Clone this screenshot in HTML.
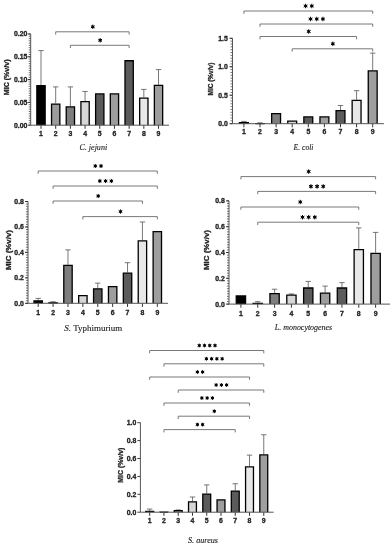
<!DOCTYPE html>
<html><head><meta charset="utf-8"><style>
html,body{margin:0;padding:0;background:#fff;}
body{width:392px;height:550px;overflow:hidden;}
svg{display:block;filter:blur(0.3px);}
.t{font-family:"Liberation Sans",sans-serif;font-weight:bold;font-size:6.9px;fill:#222;stroke:#222;stroke-width:0.3px;}
.yt{font-family:"Liberation Sans",sans-serif;font-weight:bold;font-size:7px;fill:#222;stroke:#222;stroke-width:0.3px;}
.s{font-family:"Liberation Sans",sans-serif;font-weight:bold;font-size:11px;fill:#111;}
.sp{font-family:"Liberation Serif",serif;font-size:8.2px;fill:#222;stroke:#222;stroke-width:0.12px;}
</style></head><body>
<svg width="392" height="550" viewBox="0 0 392 550">
<rect width="392" height="550" fill="#fff"/>
<path d="M30.70 125.20h-2M30.70 122.92h-2M30.70 120.64h-2M30.70 118.36h-2M30.70 116.08h-2M30.70 113.80h-2M30.70 111.52h-2M30.70 109.24h-2M30.70 106.96h-2M30.70 104.68h-2M30.70 102.40h-2M30.70 100.12h-2M30.70 97.84h-2M30.70 95.56h-2M30.70 93.28h-2M30.70 91.00h-2M30.70 88.72h-2M30.70 86.44h-2M30.70 84.16h-2M30.70 81.88h-2M30.70 79.60h-2M30.70 77.32h-2M30.70 75.04h-2M30.70 72.76h-2M30.70 70.48h-2M30.70 68.20h-2M30.70 65.92h-2M30.70 63.64h-2M30.70 61.36h-2M30.70 59.08h-2M30.70 56.80h-2M30.70 54.52h-2M30.70 52.24h-2M30.70 49.96h-2M30.70 47.68h-2M30.70 45.40h-2M30.70 43.12h-2M30.70 40.84h-2M30.70 38.56h-2M30.70 36.28h-2M30.70 34.00h-2" stroke="#444" stroke-width="0.75" fill="none"/>
<text x="27.40" y="127.60" class="t" text-anchor="end">0.00</text>
<text x="27.40" y="104.80" class="t" text-anchor="end">0.05</text>
<text x="27.40" y="82.00" class="t" text-anchor="end">0.10</text>
<text x="27.40" y="59.20" class="t" text-anchor="end">0.15</text>
<text x="27.40" y="36.40" class="t" text-anchor="end">0.20</text>
<path d="M30.70 125.20h-3M30.70 102.40h-3M30.70 79.60h-3M30.70 56.80h-3M30.70 34.00h-3" stroke="#222" stroke-width="0.9" fill="none"/>
<path d="M41.00 85.12V50.60M38.30 50.60h5.40" stroke="#555" stroke-width="0.8" fill="none"/>
<path d="M36.85 125.20V85.77H45.15V125.20Z" fill="#000000" stroke="none"/>
<path d="M36.85 125.20V85.77H45.15V125.20" fill="none" stroke="#000" stroke-width="1.3"/>
<path d="M41.00 125.20v3.6" stroke="#333" stroke-width="1"/>
<text x="41.00" y="135.90" class="t" text-anchor="middle">1</text>
<path d="M55.69 103.40V86.90M52.99 86.90h5.40" stroke="#555" stroke-width="0.8" fill="none"/>
<path d="M51.54 125.20V104.05H59.84V125.20Z" fill="#9c9c9c" stroke="none"/>
<path d="M51.54 125.20V104.05H59.84V125.20" fill="none" stroke="#000" stroke-width="1.3"/>
<path d="M55.69 125.20v3.6" stroke="#333" stroke-width="1"/>
<text x="55.69" y="135.90" class="t" text-anchor="middle">2</text>
<path d="M70.38 106.18V86.90M67.68 86.90h5.40" stroke="#555" stroke-width="0.8" fill="none"/>
<path d="M66.23 125.20V106.83H74.53V125.20Z" fill="#7e7e7e" stroke="none"/>
<path d="M66.23 125.20V106.83H74.53V125.20" fill="none" stroke="#000" stroke-width="1.3"/>
<path d="M70.38 125.20v3.6" stroke="#333" stroke-width="1"/>
<text x="70.38" y="135.90" class="t" text-anchor="middle">3</text>
<path d="M85.07 101.03V91.46M82.37 91.46h5.40" stroke="#555" stroke-width="0.8" fill="none"/>
<path d="M80.92 125.20V101.68H89.22V125.20Z" fill="#d6d6d6" stroke="none"/>
<path d="M80.92 125.20V101.68H89.22V125.20" fill="none" stroke="#000" stroke-width="1.3"/>
<path d="M85.07 125.20v3.6" stroke="#333" stroke-width="1"/>
<text x="85.07" y="135.90" class="t" text-anchor="middle">4</text>
<path d="M95.61 125.20V93.93H103.91V125.20Z" fill="#5b5b5b" stroke="none"/>
<path d="M95.61 125.20V93.93H103.91V125.20" fill="none" stroke="#000" stroke-width="1.3"/>
<path d="M99.76 125.20v3.6" stroke="#333" stroke-width="1"/>
<text x="99.76" y="135.90" class="t" text-anchor="middle">5</text>
<path d="M110.30 125.20V93.93H118.60V125.20Z" fill="#9e9e9e" stroke="none"/>
<path d="M110.30 125.20V93.93H118.60V125.20" fill="none" stroke="#000" stroke-width="1.3"/>
<path d="M114.45 125.20v3.6" stroke="#333" stroke-width="1"/>
<text x="114.45" y="135.90" class="t" text-anchor="middle">6</text>
<path d="M124.99 125.20V60.73H133.29V125.20Z" fill="#5b5b5b" stroke="none"/>
<path d="M124.99 125.20V60.73H133.29V125.20" fill="none" stroke="#000" stroke-width="1.3"/>
<path d="M129.14 125.20v3.6" stroke="#333" stroke-width="1"/>
<text x="129.14" y="135.90" class="t" text-anchor="middle">7</text>
<path d="M143.83 97.38V89.40M141.13 89.40h5.40" stroke="#555" stroke-width="0.8" fill="none"/>
<path d="M139.68 125.20V98.03H147.98V125.20Z" fill="#e8e8e8" stroke="none"/>
<path d="M139.68 125.20V98.03H147.98V125.20" fill="none" stroke="#000" stroke-width="1.3"/>
<path d="M143.83 125.20v3.6" stroke="#333" stroke-width="1"/>
<text x="143.83" y="135.90" class="t" text-anchor="middle">8</text>
<path d="M158.52 84.80V69.57M155.82 69.57h5.40" stroke="#555" stroke-width="0.8" fill="none"/>
<path d="M154.37 125.20V85.45H162.67V125.20Z" fill="#9e9e9e" stroke="none"/>
<path d="M154.37 125.20V85.45H162.67V125.20" fill="none" stroke="#000" stroke-width="1.3"/>
<path d="M158.52 125.20v3.6" stroke="#333" stroke-width="1"/>
<text x="158.52" y="135.90" class="t" text-anchor="middle">9</text>
<path d="M30.70 34.00V125.20H169.00" stroke="#555" stroke-width="1" fill="none"/>
<path d="M55.69 34.10V31.80H129.14V34.10" stroke="#6a6a6a" stroke-width="0.9" stroke-linejoin="miter" stroke-linecap="square" fill="none"/>
<path d="M92.81 24.65L92.81 28.95M90.95 25.73L94.68 27.88M94.68 25.73L90.95 27.88" stroke="#000" stroke-width="1.00" stroke-linecap="butt" fill="none"/><circle cx="92.81" cy="26.80" r="1.25" fill="#000"/>
<path d="M70.38 47.60V45.30H129.14V47.60" stroke="#6a6a6a" stroke-width="0.9" stroke-linejoin="miter" stroke-linecap="square" fill="none"/>
<path d="M100.16 38.15L100.16 42.45M98.30 39.22L102.02 41.38M102.02 39.22L98.30 41.38" stroke="#000" stroke-width="1.00" stroke-linecap="butt" fill="none"/><circle cx="100.16" cy="40.30" r="1.25" fill="#000"/>
<text class="yt" transform="translate(6.90 77.35) rotate(-90)" text-anchor="middle" y="2.51" font-size="7.00" textLength="35.7" lengthAdjust="spacingAndGlyphs">MIC (%v/v)</text>
<text class="sp" x="93.30" y="150.00" text-anchor="middle" textLength="27.7" lengthAdjust="spacingAndGlyphs"><tspan font-style="italic">C. jejuni</tspan></text>
<path d="M232.50 123.70h-2M232.50 120.85h-2M232.50 118.01h-2M232.50 115.16h-2M232.50 112.31h-2M232.50 109.47h-2M232.50 106.62h-2M232.50 103.77h-2M232.50 100.93h-2M232.50 98.08h-2M232.50 95.23h-2M232.50 92.39h-2M232.50 89.54h-2M232.50 86.69h-2M232.50 83.85h-2M232.50 81.00h-2M232.50 78.15h-2M232.50 75.31h-2M232.50 72.46h-2M232.50 69.61h-2M232.50 66.77h-2M232.50 63.92h-2M232.50 61.07h-2M232.50 58.23h-2M232.50 55.38h-2M232.50 52.53h-2M232.50 49.69h-2M232.50 46.84h-2M232.50 43.99h-2M232.50 41.15h-2M232.50 38.30h-2" stroke="#444" stroke-width="0.75" fill="none"/>
<text x="227.80" y="126.10" class="t" text-anchor="end" font-size="7.3">0.0</text>
<text x="227.80" y="97.63" class="t" text-anchor="end" font-size="7.3">0.5</text>
<text x="227.80" y="69.17" class="t" text-anchor="end" font-size="7.3">1.0</text>
<text x="227.80" y="40.70" class="t" text-anchor="end" font-size="7.3">1.5</text>
<path d="M232.50 123.70h-3M232.50 95.23h-3M232.50 66.77h-3M232.50 38.30h-3" stroke="#222" stroke-width="0.9" fill="none"/>
<path d="M243.90 121.99V121.42M241.20 121.42h5.40" stroke="#555" stroke-width="0.8" fill="none"/>
<path d="M239.45 123.70V122.64H248.35V123.70Z" fill="#000" stroke="none"/>
<path d="M239.45 123.70V122.64H248.35V123.70" fill="none" stroke="#000" stroke-width="1.3"/>
<path d="M243.90 123.70v3.6" stroke="#333" stroke-width="1"/>
<text x="243.90" y="133.70" class="t" text-anchor="middle">1</text>
<path d="M260.00 123.24V122.79M257.30 122.79h5.40" stroke="#555" stroke-width="0.8" fill="none"/>
<path d="M255.55 123.70V123.60H264.45V123.70Z" fill="#000" stroke="none"/>
<path d="M255.55 123.70V123.60H264.45V123.70" fill="none" stroke="#000" stroke-width="1.3"/>
<path d="M260.00 123.70v3.6" stroke="#333" stroke-width="1"/>
<text x="260.00" y="133.70" class="t" text-anchor="middle">2</text>
<path d="M271.65 123.70V113.53H280.55V123.70Z" fill="#7e7e7e" stroke="none"/>
<path d="M271.65 123.70V113.53H280.55V123.70" fill="none" stroke="#000" stroke-width="1.3"/>
<path d="M276.10 123.70v3.6" stroke="#333" stroke-width="1"/>
<text x="276.10" y="133.70" class="t" text-anchor="middle">3</text>
<path d="M287.75 123.70V121.16H296.65V123.70Z" fill="#d6d6d6" stroke="none"/>
<path d="M287.75 123.70V121.16H296.65V123.70" fill="none" stroke="#000" stroke-width="1.3"/>
<path d="M292.20 123.70v3.6" stroke="#333" stroke-width="1"/>
<text x="292.20" y="133.70" class="t" text-anchor="middle">4</text>
<path d="M303.85 123.70V116.95H312.75V123.70Z" fill="#5b5b5b" stroke="none"/>
<path d="M303.85 123.70V116.95H312.75V123.70" fill="none" stroke="#000" stroke-width="1.3"/>
<path d="M308.30 123.70v3.6" stroke="#333" stroke-width="1"/>
<text x="308.30" y="133.70" class="t" text-anchor="middle">5</text>
<path d="M319.95 123.70V116.95H328.85V123.70Z" fill="#9e9e9e" stroke="none"/>
<path d="M319.95 123.70V116.95H328.85V123.70" fill="none" stroke="#000" stroke-width="1.3"/>
<path d="M324.40 123.70v3.6" stroke="#333" stroke-width="1"/>
<text x="324.40" y="133.70" class="t" text-anchor="middle">6</text>
<path d="M340.50 110.04V105.48M337.80 105.48h5.40" stroke="#555" stroke-width="0.8" fill="none"/>
<path d="M336.05 123.70V110.69H344.95V123.70Z" fill="#5b5b5b" stroke="none"/>
<path d="M336.05 123.70V110.69H344.95V123.70" fill="none" stroke="#000" stroke-width="1.3"/>
<path d="M340.50 123.70v3.6" stroke="#333" stroke-width="1"/>
<text x="340.50" y="133.70" class="t" text-anchor="middle">7</text>
<path d="M356.60 99.79V90.68M353.90 90.68h5.40" stroke="#555" stroke-width="0.8" fill="none"/>
<path d="M352.15 123.70V100.44H361.05V123.70Z" fill="#e8e8e8" stroke="none"/>
<path d="M352.15 123.70V100.44H361.05V123.70" fill="none" stroke="#000" stroke-width="1.3"/>
<path d="M356.60 123.70v3.6" stroke="#333" stroke-width="1"/>
<text x="356.60" y="133.70" class="t" text-anchor="middle">8</text>
<path d="M372.70 70.18V53.10M370.00 53.10h5.40" stroke="#555" stroke-width="0.8" fill="none"/>
<path d="M368.25 123.70V70.83H377.15V123.70Z" fill="#9e9e9e" stroke="none"/>
<path d="M368.25 123.70V70.83H377.15V123.70" fill="none" stroke="#000" stroke-width="1.3"/>
<path d="M372.70 123.70v3.6" stroke="#333" stroke-width="1"/>
<text x="372.70" y="133.70" class="t" text-anchor="middle">9</text>
<path d="M232.50 38.30V123.70H383.90" stroke="#555" stroke-width="1" fill="none"/>
<path d="M243.90 13.30V11.00H372.70V13.30" stroke="#6a6a6a" stroke-width="0.9" stroke-linejoin="miter" stroke-linecap="square" fill="none"/>
<path d="M305.60 3.78L305.60 8.22M303.68 4.89L307.52 7.11M307.52 4.89L303.68 7.11" stroke="#000" stroke-width="1.00" stroke-linecap="butt" fill="none"/><circle cx="305.60" cy="6.00" r="1.25" fill="#000"/>
<path d="M311.80 3.78L311.80 8.22M309.88 4.89L313.72 7.11M313.72 4.89L309.88 7.11" stroke="#000" stroke-width="1.00" stroke-linecap="butt" fill="none"/><circle cx="311.80" cy="6.00" r="1.25" fill="#000"/>
<path d="M260.00 26.30V24.00H372.70V26.30" stroke="#6a6a6a" stroke-width="0.9" stroke-linejoin="miter" stroke-linecap="square" fill="none"/>
<path d="M310.55 16.78L310.55 21.22M308.63 17.89L312.47 20.11M312.47 17.89L308.63 20.11" stroke="#000" stroke-width="1.00" stroke-linecap="butt" fill="none"/><circle cx="310.55" cy="19.00" r="1.25" fill="#000"/>
<path d="M316.75 16.78L316.75 21.22M314.83 17.89L318.67 20.11M318.67 17.89L314.83 20.11" stroke="#000" stroke-width="1.00" stroke-linecap="butt" fill="none"/><circle cx="316.75" cy="19.00" r="1.25" fill="#000"/>
<path d="M322.95 16.78L322.95 21.22M321.03 17.89L324.87 20.11M324.87 17.89L321.03 20.11" stroke="#000" stroke-width="1.00" stroke-linecap="butt" fill="none"/><circle cx="322.95" cy="19.00" r="1.25" fill="#000"/>
<path d="M260.00 38.80V36.50H356.60V38.80" stroke="#6a6a6a" stroke-width="0.9" stroke-linejoin="miter" stroke-linecap="square" fill="none"/>
<path d="M308.70 29.28L308.70 33.72M306.78 30.39L310.62 32.61M310.62 30.39L306.78 32.61" stroke="#000" stroke-width="1.00" stroke-linecap="butt" fill="none"/><circle cx="308.70" cy="31.50" r="1.25" fill="#000"/>
<path d="M292.20 51.10V48.80H372.70V51.10" stroke="#6a6a6a" stroke-width="0.9" stroke-linejoin="miter" stroke-linecap="square" fill="none"/>
<path d="M332.85 41.58L332.85 46.02M330.93 42.69L334.77 44.91M334.77 42.69L330.93 44.91" stroke="#000" stroke-width="1.00" stroke-linecap="butt" fill="none"/><circle cx="332.85" cy="43.80" r="1.25" fill="#000"/>
<text class="yt" transform="translate(210.80 79.10) rotate(-90)" text-anchor="middle" y="2.30" font-size="6.43" textLength="32.8" lengthAdjust="spacingAndGlyphs">MIC (%v/v)</text>
<text class="sp" x="303.50" y="149.50" text-anchor="middle" textLength="20.0" lengthAdjust="spacingAndGlyphs"><tspan font-style="italic">E. coli</tspan></text>
<path d="M28.00 303.30h-2M28.00 300.75h-2M28.00 298.21h-2M28.00 295.67h-2M28.00 293.12h-2M28.00 290.57h-2M28.00 288.03h-2M28.00 285.49h-2M28.00 282.94h-2M28.00 280.39h-2M28.00 277.85h-2M28.00 275.31h-2M28.00 272.76h-2M28.00 270.22h-2M28.00 267.67h-2M28.00 265.12h-2M28.00 262.58h-2M28.00 260.04h-2M28.00 257.49h-2M28.00 254.94h-2M28.00 252.40h-2M28.00 249.86h-2M28.00 247.31h-2M28.00 244.76h-2M28.00 242.22h-2M28.00 239.68h-2M28.00 237.13h-2M28.00 234.58h-2M28.00 232.04h-2M28.00 229.50h-2M28.00 226.95h-2M28.00 224.41h-2M28.00 221.86h-2M28.00 219.31h-2M28.00 216.77h-2M28.00 214.22h-2M28.00 211.68h-2M28.00 209.13h-2M28.00 206.59h-2M28.00 204.05h-2M28.00 201.50h-2" stroke="#444" stroke-width="0.75" fill="none"/>
<text x="23.90" y="305.70" class="t" text-anchor="end">0.0</text>
<text x="23.90" y="280.25" class="t" text-anchor="end">0.2</text>
<text x="23.90" y="254.80" class="t" text-anchor="end">0.4</text>
<text x="23.90" y="229.35" class="t" text-anchor="end">0.6</text>
<text x="23.90" y="203.90" class="t" text-anchor="end">0.8</text>
<path d="M28.00 303.30h-3M28.00 277.85h-3M28.00 252.40h-3M28.00 226.95h-3M28.00 201.50h-3" stroke="#222" stroke-width="0.9" fill="none"/>
<path d="M38.20 300.20V298.40M35.50 298.40h5.40" stroke="#555" stroke-width="0.8" fill="none"/>
<path d="M34.00 303.30V300.85H42.40V303.30Z" fill="#000000" stroke="none"/>
<path d="M34.00 303.30V300.85H42.40V303.30" fill="none" stroke="#000" stroke-width="1.3"/>
<path d="M38.20 303.30v3.6" stroke="#333" stroke-width="1"/>
<text x="38.20" y="315.10" class="t" text-anchor="middle">1</text>
<path d="M53.09 302.28V301.77M50.39 301.77h5.40" stroke="#555" stroke-width="0.8" fill="none"/>
<path d="M48.89 303.30V302.93H57.29V303.30Z" fill="#000" stroke="none"/>
<path d="M48.89 303.30V302.93H57.29V303.30" fill="none" stroke="#000" stroke-width="1.3"/>
<path d="M53.09 303.30v3.6" stroke="#333" stroke-width="1"/>
<text x="53.09" y="315.10" class="t" text-anchor="middle">2</text>
<path d="M67.98 264.74V249.86M65.28 249.86h5.40" stroke="#555" stroke-width="0.8" fill="none"/>
<path d="M63.78 303.30V265.39H72.18V303.30Z" fill="#7e7e7e" stroke="none"/>
<path d="M63.78 303.30V265.39H72.18V303.30" fill="none" stroke="#000" stroke-width="1.3"/>
<path d="M67.98 303.30v3.6" stroke="#333" stroke-width="1"/>
<text x="67.98" y="315.10" class="t" text-anchor="middle">3</text>
<path d="M78.67 303.30V295.55H87.07V303.30Z" fill="#d6d6d6" stroke="none"/>
<path d="M78.67 303.30V295.55H87.07V303.30" fill="none" stroke="#000" stroke-width="1.3"/>
<path d="M82.87 303.30v3.6" stroke="#333" stroke-width="1"/>
<text x="82.87" y="315.10" class="t" text-anchor="middle">4</text>
<path d="M97.76 288.20V283.11M95.06 283.11h5.40" stroke="#555" stroke-width="0.8" fill="none"/>
<path d="M93.56 303.30V288.85H101.96V303.30Z" fill="#5b5b5b" stroke="none"/>
<path d="M93.56 303.30V288.85H101.96V303.30" fill="none" stroke="#000" stroke-width="1.3"/>
<path d="M97.76 303.30v3.6" stroke="#333" stroke-width="1"/>
<text x="97.76" y="315.10" class="t" text-anchor="middle">5</text>
<path d="M108.45 303.30V286.64H116.85V303.30Z" fill="#9e9e9e" stroke="none"/>
<path d="M108.45 303.30V286.64H116.85V303.30" fill="none" stroke="#000" stroke-width="1.3"/>
<path d="M112.65 303.30v3.6" stroke="#333" stroke-width="1"/>
<text x="112.65" y="315.10" class="t" text-anchor="middle">6</text>
<path d="M127.54 272.51V262.71M124.84 262.71h5.40" stroke="#555" stroke-width="0.8" fill="none"/>
<path d="M123.34 303.30V273.16H131.74V303.30Z" fill="#5b5b5b" stroke="none"/>
<path d="M123.34 303.30V273.16H131.74V303.30" fill="none" stroke="#000" stroke-width="1.3"/>
<path d="M127.54 303.30v3.6" stroke="#333" stroke-width="1"/>
<text x="127.54" y="315.10" class="t" text-anchor="middle">7</text>
<path d="M142.43 240.18V221.99M139.73 221.99h5.40" stroke="#555" stroke-width="0.8" fill="none"/>
<path d="M138.23 303.30V240.83H146.63V303.30Z" fill="#e8e8e8" stroke="none"/>
<path d="M138.23 303.30V240.83H146.63V303.30" fill="none" stroke="#000" stroke-width="1.3"/>
<path d="M142.43 303.30v3.6" stroke="#333" stroke-width="1"/>
<text x="142.43" y="315.10" class="t" text-anchor="middle">8</text>
<path d="M153.12 303.30V231.67H161.52V303.30Z" fill="#9e9e9e" stroke="none"/>
<path d="M153.12 303.30V231.67H161.52V303.30" fill="none" stroke="#000" stroke-width="1.3"/>
<path d="M157.32 303.30v3.6" stroke="#333" stroke-width="1"/>
<text x="157.32" y="315.10" class="t" text-anchor="middle">9</text>
<path d="M28.00 201.50V303.30H168.00" stroke="#555" stroke-width="1" fill="none"/>
<path d="M38.20 173.30V171.00H157.32V173.30" stroke="#6a6a6a" stroke-width="0.9" stroke-linejoin="miter" stroke-linecap="square" fill="none"/>
<path d="M95.28 163.94L95.28 168.06M93.50 164.97L97.07 167.03M97.07 164.97L93.50 167.03" stroke="#000" stroke-width="1.00" stroke-linecap="butt" fill="none"/><circle cx="95.28" cy="166.00" r="1.25" fill="#000"/>
<path d="M101.03 163.94L101.03 168.06M99.25 164.97L102.82 167.03M102.82 164.97L99.25 167.03" stroke="#000" stroke-width="1.00" stroke-linecap="butt" fill="none"/><circle cx="101.03" cy="166.00" r="1.25" fill="#000"/>
<path d="M53.09 188.30V186.00H157.32V188.30" stroke="#6a6a6a" stroke-width="0.9" stroke-linejoin="miter" stroke-linecap="square" fill="none"/>
<path d="M99.86 178.94L99.86 183.06M98.07 179.97L101.64 182.03M101.64 179.97L98.07 182.03" stroke="#000" stroke-width="1.00" stroke-linecap="butt" fill="none"/><circle cx="99.86" cy="181.00" r="1.25" fill="#000"/>
<path d="M105.61 178.94L105.61 183.06M103.82 179.97L107.39 182.03M107.39 179.97L103.82 182.03" stroke="#000" stroke-width="1.00" stroke-linecap="butt" fill="none"/><circle cx="105.61" cy="181.00" r="1.25" fill="#000"/>
<path d="M111.36 178.94L111.36 183.06M109.57 179.97L113.14 182.03M113.14 179.97L109.57 182.03" stroke="#000" stroke-width="1.00" stroke-linecap="butt" fill="none"/><circle cx="111.36" cy="181.00" r="1.25" fill="#000"/>
<path d="M53.09 203.30V201.00H142.43V203.30" stroke="#6a6a6a" stroke-width="0.9" stroke-linejoin="miter" stroke-linecap="square" fill="none"/>
<path d="M98.16 193.94L98.16 198.06M96.38 194.97L99.94 197.03M99.94 194.97L96.38 197.03" stroke="#000" stroke-width="1.00" stroke-linecap="butt" fill="none"/><circle cx="98.16" cy="196.00" r="1.25" fill="#000"/>
<path d="M82.87 218.90V216.60H157.32V218.90" stroke="#6a6a6a" stroke-width="0.9" stroke-linejoin="miter" stroke-linecap="square" fill="none"/>
<path d="M120.50 209.54L120.50 213.66M118.71 210.57L122.28 212.63M122.28 210.57L118.71 212.63" stroke="#000" stroke-width="1.00" stroke-linecap="butt" fill="none"/><circle cx="120.50" cy="211.60" r="1.25" fill="#000"/>
<text class="yt" transform="translate(8.30 250.00) rotate(-90)" text-anchor="middle" y="2.81" font-size="7.84" textLength="40.0" lengthAdjust="spacingAndGlyphs">MIC (%v/v)</text>
<text class="sp" x="93.30" y="331.30" text-anchor="middle" textLength="58.0" lengthAdjust="spacingAndGlyphs"><tspan font-style="italic">S.</tspan><tspan font-style="normal">&#160;Typhimurium</tspan></text>
<path d="M229.00 304.10h-2M229.00 301.52h-2M229.00 298.94h-2M229.00 296.36h-2M229.00 293.78h-2M229.00 291.20h-2M229.00 288.62h-2M229.00 286.04h-2M229.00 283.46h-2M229.00 280.88h-2M229.00 278.30h-2M229.00 275.72h-2M229.00 273.14h-2M229.00 270.56h-2M229.00 267.98h-2M229.00 265.40h-2M229.00 262.82h-2M229.00 260.24h-2M229.00 257.66h-2M229.00 255.08h-2M229.00 252.50h-2M229.00 249.92h-2M229.00 247.34h-2M229.00 244.76h-2M229.00 242.18h-2M229.00 239.60h-2M229.00 237.02h-2M229.00 234.44h-2M229.00 231.86h-2M229.00 229.28h-2M229.00 226.70h-2M229.00 224.12h-2M229.00 221.54h-2M229.00 218.96h-2M229.00 216.38h-2M229.00 213.80h-2M229.00 211.22h-2M229.00 208.64h-2M229.00 206.06h-2M229.00 203.48h-2M229.00 200.90h-2" stroke="#444" stroke-width="0.75" fill="none"/>
<text x="224.80" y="306.50" class="t" text-anchor="end">0.0</text>
<text x="224.80" y="280.70" class="t" text-anchor="end">0.2</text>
<text x="224.80" y="254.90" class="t" text-anchor="end">0.4</text>
<text x="224.80" y="229.10" class="t" text-anchor="end">0.6</text>
<text x="224.80" y="203.30" class="t" text-anchor="end">0.8</text>
<path d="M229.00 304.10h-3M229.00 278.30h-3M229.00 252.50h-3M229.00 226.70h-3M229.00 200.90h-3" stroke="#222" stroke-width="0.9" fill="none"/>
<path d="M236.25 304.10V295.98H245.55V304.10Z" fill="#000000" stroke="none"/>
<path d="M236.25 304.10V295.98H245.55V304.10" fill="none" stroke="#000" stroke-width="1.3"/>
<path d="M240.90 304.10v3.6" stroke="#333" stroke-width="1"/>
<text x="240.90" y="316.20" class="t" text-anchor="middle">1</text>
<path d="M257.74 302.68V301.65M255.04 301.65h5.40" stroke="#555" stroke-width="0.8" fill="none"/>
<path d="M253.09 304.10V303.33H262.39V304.10Z" fill="#000" stroke="none"/>
<path d="M253.09 304.10V303.33H262.39V304.10" fill="none" stroke="#000" stroke-width="1.3"/>
<path d="M257.74 304.10v3.6" stroke="#333" stroke-width="1"/>
<text x="257.74" y="316.20" class="t" text-anchor="middle">2</text>
<path d="M274.58 292.88V289.20M271.88 289.20h5.40" stroke="#555" stroke-width="0.8" fill="none"/>
<path d="M269.93 304.10V293.53H279.23V304.10Z" fill="#7e7e7e" stroke="none"/>
<path d="M269.93 304.10V293.53H279.23V304.10" fill="none" stroke="#000" stroke-width="1.3"/>
<path d="M274.58 304.10v3.6" stroke="#333" stroke-width="1"/>
<text x="274.58" y="316.20" class="t" text-anchor="middle">3</text>
<path d="M291.42 294.50V293.91M288.72 293.91h5.40" stroke="#555" stroke-width="0.8" fill="none"/>
<path d="M286.77 304.10V295.15H296.07V304.10Z" fill="#d6d6d6" stroke="none"/>
<path d="M286.77 304.10V295.15H296.07V304.10" fill="none" stroke="#000" stroke-width="1.3"/>
<path d="M291.42 304.10v3.6" stroke="#333" stroke-width="1"/>
<text x="291.42" y="316.20" class="t" text-anchor="middle">4</text>
<path d="M308.26 287.33V281.40M305.56 281.40h5.40" stroke="#555" stroke-width="0.8" fill="none"/>
<path d="M303.61 304.10V287.98H312.91V304.10Z" fill="#5b5b5b" stroke="none"/>
<path d="M303.61 304.10V287.98H312.91V304.10" fill="none" stroke="#000" stroke-width="1.3"/>
<path d="M308.26 304.10v3.6" stroke="#333" stroke-width="1"/>
<text x="308.26" y="316.20" class="t" text-anchor="middle">5</text>
<path d="M325.10 292.49V286.10M322.40 286.10h5.40" stroke="#555" stroke-width="0.8" fill="none"/>
<path d="M320.45 304.10V293.14H329.75V304.10Z" fill="#9e9e9e" stroke="none"/>
<path d="M320.45 304.10V293.14H329.75V304.10" fill="none" stroke="#000" stroke-width="1.3"/>
<path d="M325.10 304.10v3.6" stroke="#333" stroke-width="1"/>
<text x="325.10" y="316.20" class="t" text-anchor="middle">6</text>
<path d="M341.94 287.33V282.60M339.24 282.60h5.40" stroke="#555" stroke-width="0.8" fill="none"/>
<path d="M337.29 304.10V287.98H346.59V304.10Z" fill="#5b5b5b" stroke="none"/>
<path d="M337.29 304.10V287.98H346.59V304.10" fill="none" stroke="#000" stroke-width="1.3"/>
<path d="M341.94 304.10v3.6" stroke="#333" stroke-width="1"/>
<text x="341.94" y="316.20" class="t" text-anchor="middle">7</text>
<path d="M358.78 248.89V227.90M356.08 227.90h5.40" stroke="#555" stroke-width="0.8" fill="none"/>
<path d="M354.13 304.10V249.54H363.43V304.10Z" fill="#e8e8e8" stroke="none"/>
<path d="M354.13 304.10V249.54H363.43V304.10" fill="none" stroke="#000" stroke-width="1.3"/>
<path d="M358.78 304.10v3.6" stroke="#333" stroke-width="1"/>
<text x="358.78" y="316.20" class="t" text-anchor="middle">8</text>
<path d="M375.62 252.63V232.40M372.92 232.40h5.40" stroke="#555" stroke-width="0.8" fill="none"/>
<path d="M370.97 304.10V253.28H380.27V304.10Z" fill="#9e9e9e" stroke="none"/>
<path d="M370.97 304.10V253.28H380.27V304.10" fill="none" stroke="#000" stroke-width="1.3"/>
<path d="M375.62 304.10v3.6" stroke="#333" stroke-width="1"/>
<text x="375.62" y="316.20" class="t" text-anchor="middle">9</text>
<path d="M229.00 200.90V304.10H390.00" stroke="#555" stroke-width="1" fill="none"/>
<path d="M240.90 178.90V176.60H375.62V178.90" stroke="#6a6a6a" stroke-width="0.9" stroke-linejoin="miter" stroke-linecap="square" fill="none"/>
<path d="M308.66 169.40L308.66 173.80M306.75 170.50L310.57 172.70M310.57 170.50L306.75 172.70" stroke="#000" stroke-width="1.00" stroke-linecap="butt" fill="none"/><circle cx="308.66" cy="171.60" r="1.25" fill="#000"/>
<path d="M257.74 193.70V191.40H375.62V193.70" stroke="#6a6a6a" stroke-width="0.9" stroke-linejoin="miter" stroke-linecap="square" fill="none"/>
<path d="M310.93 184.20L310.93 188.60M309.02 185.30L312.84 187.50M312.84 185.30L309.02 187.50" stroke="#000" stroke-width="1.00" stroke-linecap="butt" fill="none"/><circle cx="310.93" cy="186.40" r="1.25" fill="#000"/>
<path d="M317.08 184.20L317.08 188.60M315.17 185.30L318.99 187.50M318.99 185.30L315.17 187.50" stroke="#000" stroke-width="1.00" stroke-linecap="butt" fill="none"/><circle cx="317.08" cy="186.40" r="1.25" fill="#000"/>
<path d="M323.23 184.20L323.23 188.60M321.32 185.30L325.14 187.50M325.14 185.30L321.32 187.50" stroke="#000" stroke-width="1.00" stroke-linecap="butt" fill="none"/><circle cx="323.23" cy="186.40" r="1.25" fill="#000"/>
<path d="M240.90 209.30V207.00H358.78V209.30" stroke="#6a6a6a" stroke-width="0.9" stroke-linejoin="miter" stroke-linecap="square" fill="none"/>
<path d="M300.24 199.80L300.24 204.20M298.33 200.90L302.15 203.10M302.15 200.90L298.33 203.10" stroke="#000" stroke-width="1.00" stroke-linecap="butt" fill="none"/><circle cx="300.24" cy="202.00" r="1.25" fill="#000"/>
<path d="M257.74 224.50V222.20H358.78V224.50" stroke="#6a6a6a" stroke-width="0.9" stroke-linejoin="miter" stroke-linecap="square" fill="none"/>
<path d="M302.51 215.00L302.51 219.40M300.60 216.10L304.42 218.30M304.42 216.10L300.60 218.30" stroke="#000" stroke-width="1.00" stroke-linecap="butt" fill="none"/><circle cx="302.51" cy="217.20" r="1.25" fill="#000"/>
<path d="M308.66 215.00L308.66 219.40M306.75 216.10L310.57 218.30M310.57 216.10L306.75 218.30" stroke="#000" stroke-width="1.00" stroke-linecap="butt" fill="none"/><circle cx="308.66" cy="217.20" r="1.25" fill="#000"/>
<path d="M314.81 215.00L314.81 219.40M312.90 216.10L316.72 218.30M316.72 216.10L312.90 218.30" stroke="#000" stroke-width="1.00" stroke-linecap="butt" fill="none"/><circle cx="314.81" cy="217.20" r="1.25" fill="#000"/>
<text class="yt" transform="translate(206.60 250.00) rotate(-90)" text-anchor="middle" y="2.81" font-size="7.84" textLength="40.0" lengthAdjust="spacingAndGlyphs">MIC (%v/v)</text>
<text class="sp" x="303.50" y="330.30" text-anchor="middle" textLength="57.4" lengthAdjust="spacingAndGlyphs"><tspan font-style="italic">L. monocytogenes</tspan></text>
<text x="136.30" y="514.60" class="t" text-anchor="end">0.0</text>
<text x="136.30" y="496.70" class="t" text-anchor="end">0.2</text>
<text x="136.30" y="478.80" class="t" text-anchor="end">0.4</text>
<text x="136.30" y="460.90" class="t" text-anchor="end">0.6</text>
<text x="136.30" y="443.00" class="t" text-anchor="end">0.8</text>
<text x="136.30" y="425.10" class="t" text-anchor="end">1.0</text>
<path d="M140.40 512.20h-3M140.40 494.30h-3M140.40 476.40h-3M140.40 458.50h-3M140.40 440.60h-3M140.40 422.70h-3" stroke="#222" stroke-width="0.9" fill="none"/>
<path d="M149.70 510.77V509.07M147.00 509.07h5.40" stroke="#555" stroke-width="0.8" fill="none"/>
<path d="M145.75 512.20V511.42H153.65V512.20Z" fill="#000" stroke="none"/>
<path d="M145.75 512.20V511.42H153.65V512.20" fill="none" stroke="#000" stroke-width="1.3"/>
<path d="M149.70 512.20v3.6" stroke="#333" stroke-width="1"/>
<text x="149.70" y="523.00" class="t" text-anchor="middle">1</text>
<path d="M160.01 512.20V512.10H167.91V512.20Z" fill="#000" stroke="none"/>
<path d="M160.01 512.20V512.10H167.91V512.20" fill="none" stroke="#000" stroke-width="1.3"/>
<path d="M163.96 512.20v3.6" stroke="#333" stroke-width="1"/>
<text x="163.96" y="523.00" class="t" text-anchor="middle">2</text>
<path d="M178.22 509.96V509.96M175.52 509.96h5.40" stroke="#555" stroke-width="0.8" fill="none"/>
<path d="M174.27 512.20V510.61H182.17V512.20Z" fill="#7e7e7e" stroke="none"/>
<path d="M174.27 512.20V510.61H182.17V512.20" fill="none" stroke="#000" stroke-width="1.3"/>
<path d="M178.22 512.20v3.6" stroke="#333" stroke-width="1"/>
<text x="178.22" y="523.00" class="t" text-anchor="middle">3</text>
<path d="M192.48 501.19V496.99M189.78 496.99h5.40" stroke="#555" stroke-width="0.8" fill="none"/>
<path d="M188.53 512.20V501.84H196.43V512.20Z" fill="#d6d6d6" stroke="none"/>
<path d="M188.53 512.20V501.84H196.43V512.20" fill="none" stroke="#000" stroke-width="1.3"/>
<path d="M192.48 512.20v3.6" stroke="#333" stroke-width="1"/>
<text x="192.48" y="523.00" class="t" text-anchor="middle">4</text>
<path d="M206.74 493.49V484.90M204.04 484.90h5.40" stroke="#555" stroke-width="0.8" fill="none"/>
<path d="M202.79 512.20V494.14H210.69V512.20Z" fill="#5b5b5b" stroke="none"/>
<path d="M202.79 512.20V494.14H210.69V512.20" fill="none" stroke="#000" stroke-width="1.3"/>
<path d="M206.74 512.20v3.6" stroke="#333" stroke-width="1"/>
<text x="206.74" y="523.00" class="t" text-anchor="middle">5</text>
<path d="M217.05 512.20V499.87H224.95V512.20Z" fill="#9e9e9e" stroke="none"/>
<path d="M217.05 512.20V499.87H224.95V512.20" fill="none" stroke="#000" stroke-width="1.3"/>
<path d="M221.00 512.20v3.6" stroke="#333" stroke-width="1"/>
<text x="221.00" y="523.00" class="t" text-anchor="middle">6</text>
<path d="M235.26 490.45V483.74M232.56 483.74h5.40" stroke="#555" stroke-width="0.8" fill="none"/>
<path d="M231.31 512.20V491.10H239.21V512.20Z" fill="#5b5b5b" stroke="none"/>
<path d="M231.31 512.20V491.10H239.21V512.20" fill="none" stroke="#000" stroke-width="1.3"/>
<path d="M235.26 512.20v3.6" stroke="#333" stroke-width="1"/>
<text x="235.26" y="523.00" class="t" text-anchor="middle">7</text>
<path d="M249.52 466.29V455.10M246.82 455.10h5.40" stroke="#555" stroke-width="0.8" fill="none"/>
<path d="M245.57 512.20V466.94H253.47V512.20Z" fill="#e8e8e8" stroke="none"/>
<path d="M245.57 512.20V466.94H253.47V512.20" fill="none" stroke="#000" stroke-width="1.3"/>
<path d="M249.52 512.20v3.6" stroke="#333" stroke-width="1"/>
<text x="249.52" y="523.00" class="t" text-anchor="middle">8</text>
<path d="M263.78 454.29V434.78M261.08 434.78h5.40" stroke="#555" stroke-width="0.8" fill="none"/>
<path d="M259.83 512.20V454.94H267.73V512.20Z" fill="#9e9e9e" stroke="none"/>
<path d="M259.83 512.20V454.94H267.73V512.20" fill="none" stroke="#000" stroke-width="1.3"/>
<path d="M263.78 512.20v3.6" stroke="#333" stroke-width="1"/>
<text x="263.78" y="523.00" class="t" text-anchor="middle">9</text>
<path d="M140.40 422.70V512.20H273.60" stroke="#555" stroke-width="1" fill="none"/>
<path d="M149.70 352.80V350.50H263.78V352.80" stroke="#6a6a6a" stroke-width="0.9" stroke-linejoin="miter" stroke-linecap="square" fill="none"/>
<path d="M199.26 343.62L199.26 347.38M197.64 344.56L200.89 346.44M200.89 344.56L197.64 346.44" stroke="#000" stroke-width="1.00" stroke-linecap="butt" fill="none"/><circle cx="199.26" cy="345.50" r="1.25" fill="#000"/>
<path d="M204.51 343.62L204.51 347.38M202.89 344.56L206.14 346.44M206.14 344.56L202.89 346.44" stroke="#000" stroke-width="1.00" stroke-linecap="butt" fill="none"/><circle cx="204.51" cy="345.50" r="1.25" fill="#000"/>
<path d="M209.76 343.62L209.76 347.38M208.14 344.56L211.39 346.44M211.39 344.56L208.14 346.44" stroke="#000" stroke-width="1.00" stroke-linecap="butt" fill="none"/><circle cx="209.76" cy="345.50" r="1.25" fill="#000"/>
<path d="M215.01 343.62L215.01 347.38M213.39 344.56L216.64 346.44M216.64 344.56L213.39 346.44" stroke="#000" stroke-width="1.00" stroke-linecap="butt" fill="none"/><circle cx="215.01" cy="345.50" r="1.25" fill="#000"/>
<path d="M163.96 366.10V363.80H263.78V366.10" stroke="#6a6a6a" stroke-width="0.9" stroke-linejoin="miter" stroke-linecap="square" fill="none"/>
<path d="M206.39 356.92L206.39 360.68M204.77 357.86L208.02 359.74M208.02 357.86L204.77 359.74" stroke="#000" stroke-width="1.00" stroke-linecap="butt" fill="none"/><circle cx="206.39" cy="358.80" r="1.25" fill="#000"/>
<path d="M211.64 356.92L211.64 360.68M210.02 357.86L213.27 359.74M213.27 357.86L210.02 359.74" stroke="#000" stroke-width="1.00" stroke-linecap="butt" fill="none"/><circle cx="211.64" cy="358.80" r="1.25" fill="#000"/>
<path d="M216.89 356.92L216.89 360.68M215.27 357.86L218.52 359.74M218.52 357.86L215.27 359.74" stroke="#000" stroke-width="1.00" stroke-linecap="butt" fill="none"/><circle cx="216.89" cy="358.80" r="1.25" fill="#000"/>
<path d="M222.14 356.92L222.14 360.68M220.52 357.86L223.77 359.74M223.77 357.86L220.52 359.74" stroke="#000" stroke-width="1.00" stroke-linecap="butt" fill="none"/><circle cx="222.14" cy="358.80" r="1.25" fill="#000"/>
<path d="M149.70 379.30V377.00H249.52V379.30" stroke="#6a6a6a" stroke-width="0.9" stroke-linejoin="miter" stroke-linecap="square" fill="none"/>
<path d="M197.38 370.12L197.38 373.88M195.76 371.06L199.01 372.94M199.01 371.06L195.76 372.94" stroke="#000" stroke-width="1.00" stroke-linecap="butt" fill="none"/><circle cx="197.38" cy="372.00" r="1.25" fill="#000"/>
<path d="M202.63 370.12L202.63 373.88M201.01 371.06L204.26 372.94M204.26 371.06L201.01 372.94" stroke="#000" stroke-width="1.00" stroke-linecap="butt" fill="none"/><circle cx="202.63" cy="372.00" r="1.25" fill="#000"/>
<path d="M178.22 392.30V390.00H263.78V392.30" stroke="#6a6a6a" stroke-width="0.9" stroke-linejoin="miter" stroke-linecap="square" fill="none"/>
<path d="M216.15 383.12L216.15 386.88M214.52 384.06L217.78 385.94M217.78 384.06L214.52 385.94" stroke="#000" stroke-width="1.00" stroke-linecap="butt" fill="none"/><circle cx="216.15" cy="385.00" r="1.25" fill="#000"/>
<path d="M221.40 383.12L221.40 386.88M219.77 384.06L223.03 385.94M223.03 384.06L219.77 385.94" stroke="#000" stroke-width="1.00" stroke-linecap="butt" fill="none"/><circle cx="221.40" cy="385.00" r="1.25" fill="#000"/>
<path d="M226.65 383.12L226.65 386.88M225.02 384.06L228.28 385.94M228.28 384.06L225.02 385.94" stroke="#000" stroke-width="1.00" stroke-linecap="butt" fill="none"/><circle cx="226.65" cy="385.00" r="1.25" fill="#000"/>
<path d="M163.96 405.30V403.00H249.52V405.30" stroke="#6a6a6a" stroke-width="0.9" stroke-linejoin="miter" stroke-linecap="square" fill="none"/>
<path d="M201.89 396.12L201.89 399.88M200.26 397.06L203.52 398.94M203.52 397.06L200.26 398.94" stroke="#000" stroke-width="1.00" stroke-linecap="butt" fill="none"/><circle cx="201.89" cy="398.00" r="1.25" fill="#000"/>
<path d="M207.14 396.12L207.14 399.88M205.51 397.06L208.77 398.94M208.77 397.06L205.51 398.94" stroke="#000" stroke-width="1.00" stroke-linecap="butt" fill="none"/><circle cx="207.14" cy="398.00" r="1.25" fill="#000"/>
<path d="M212.39 396.12L212.39 399.88M210.76 397.06L214.02 398.94M214.02 397.06L210.76 398.94" stroke="#000" stroke-width="1.00" stroke-linecap="butt" fill="none"/><circle cx="212.39" cy="398.00" r="1.25" fill="#000"/>
<path d="M178.22 418.50V416.20H249.52V418.50" stroke="#6a6a6a" stroke-width="0.9" stroke-linejoin="miter" stroke-linecap="square" fill="none"/>
<path d="M214.27 409.32L214.27 413.08M212.64 410.26L215.90 412.14M215.90 410.26L212.64 412.14" stroke="#000" stroke-width="1.00" stroke-linecap="butt" fill="none"/><circle cx="214.27" cy="411.20" r="1.25" fill="#000"/>
<path d="M163.96 431.90V429.60H235.26V431.90" stroke="#6a6a6a" stroke-width="0.9" stroke-linejoin="miter" stroke-linecap="square" fill="none"/>
<path d="M197.38 422.72L197.38 426.48M195.76 423.66L199.01 425.54M199.01 423.66L195.76 425.54" stroke="#000" stroke-width="1.00" stroke-linecap="butt" fill="none"/><circle cx="197.38" cy="424.60" r="1.25" fill="#000"/>
<path d="M202.63 422.72L202.63 426.48M201.01 423.66L204.26 425.54M204.26 423.66L201.01 425.54" stroke="#000" stroke-width="1.00" stroke-linecap="butt" fill="none"/><circle cx="202.63" cy="424.60" r="1.25" fill="#000"/>
<text class="yt" transform="translate(120.80 465.20) rotate(-90)" text-anchor="middle" y="2.46" font-size="6.86" textLength="35.0" lengthAdjust="spacingAndGlyphs">MIC (%v/v)</text>
<text class="sp" x="203.00" y="542.90" text-anchor="middle" textLength="30.0" lengthAdjust="spacingAndGlyphs"><tspan font-style="italic">S. aureus</tspan></text>
</svg>
</body></html>
